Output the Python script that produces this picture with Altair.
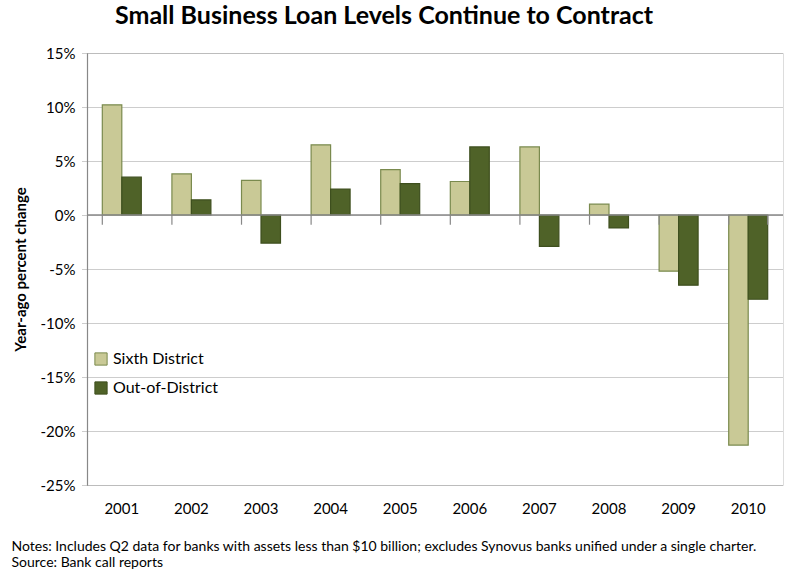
import altair as alt
import pandas as pd

years = ["2001", "2002", "2003", "2004", "2005", "2006", "2007", "2008", "2009", "2010"]
sixth = [10.2, 3.8, 3.2, 6.5, 4.2, 3.1, 6.3, 1.0, -5.2, -21.3]
outd = [3.5, 1.4, -2.6, 2.4, 2.9, 6.3, -2.9, -1.2, -6.5, -7.8]
series = ["Sixth District", "Out-of-District"]
y_ticks = [15, 10, 5, 0, -5, -10, -15, -20, -25]
notes = ["Notes: Includes Q2 data for banks with assets less than $10 billion; excludes Synovus banks unified under a single charter.",
         "Source: Bank call reports"]

rows = []
for i, y in enumerate(years):
    rows.append({"year": y, "series": series[0], "value": sixth[i], "order": 0})
    rows.append({"year": y, "series": series[1], "value": outd[i], "order": 1})
df = pd.DataFrame(rows)
ticks_df = pd.DataFrame({"year": years})

FONT = "Lato"
xscale = alt.Scale(domain=years, paddingInner=0.44, paddingOuter=0.22)
yscale = alt.Scale(domain=[-25, 15], nice=False)

bars = alt.Chart(df).mark_bar(strokeWidth=1.2).encode(
    x=alt.X("year:N", scale=xscale, sort=years,
            axis=alt.Axis(title=notes, domain=False, ticks=False, labelAngle=0,
                          labelFontSize=15, labelColor="#000", labelPadding=16,
                          labelFont=FONT, titleFont=FONT, titleFontSize=14,
                          titleFontWeight="normal", titleAnchor="start", titleAlign="left",
                          titleX=-76, titleY=54, titleColor="#000", titleLineHeight=16)),
    xOffset=alt.XOffset("series:N", sort=series, scale=alt.Scale(domain=series, paddingInner=0, paddingOuter=0)),
    y=alt.Y("value:Q", scale=yscale,
            axis=alt.Axis(values=y_ticks, labelExpr="datum.value + '%'", title="Year-ago percent change",
                          grid=True, gridColor="#9A9A9A", gridDash=[1, 1], gridWidth=1,
                          domain=True, domainColor="#888888", domainWidth=1.2,
                          ticks=True, tickSize=6, tickColor="#9A9A9A", tickDash=[1, 1],
                          labelFontSize=15, labelColor="#000", labelFont=FONT, labelPadding=6,
                          titleFont=FONT, titleFontSize=15, titleFontWeight="bold",
                          titleColor="#000", titlePadding=12)),
    color=alt.Color("series:N", sort=series,
                    scale=alt.Scale(domain=series, range=["#C9C996", "#4F6228"]),
                    legend=alt.Legend(title=None, orient="none", legendX=6, legendY=298,
                                      symbolType="square", symbolSize=150, symbolStrokeWidth=1,
                                      labelFontSize=16, labelFont=FONT, labelColor="#000",
                                      rowPadding=11, labelOffset=4)),
    stroke=alt.Stroke("series:N", sort=series,
                      scale=alt.Scale(domain=series, range=["#7A8A4E", "#3E4F1E"]), legend=None),
)

zero = alt.Chart(pd.DataFrame({"v": [0]})).mark_rule(color="#888888", strokeWidth=1.5).encode(
    y=alt.Y("v:Q", scale=yscale))

cat_ticks = alt.Chart(ticks_df).mark_rule(color="#888888", strokeWidth=1.2).encode(
    x=alt.X("year:N", scale=xscale, sort=years, bandPosition=0),
    y=alt.datum(0), y2=alt.datum(-0.9))
end_tick = alt.Chart(ticks_df.tail(1)).mark_rule(color="#888888", strokeWidth=1.2).encode(
    x=alt.X("year:N", scale=xscale, sort=years, bandPosition=1),
    y=alt.datum(0), y2=alt.datum(-0.9))

chart = alt.layer(bars, zero, cat_ticks, end_tick).properties(
    width=696, height=432,
    autosize=alt.AutoSizeParams(type="none"),
    padding={"left": 87, "top": 53, "right": 24, "bottom": 90},
    title=alt.TitleParams("Small Business Loan Levels Continue to Contract", font=FONT,
                          fontSize=25, fontWeight="bold", color="#000", anchor="start",
                          dx=104, offset=17),
).configure_view(stroke=None).configure(background="white")

chart.save("out.html", embed_options={"renderer": "svg", "actions": False})
